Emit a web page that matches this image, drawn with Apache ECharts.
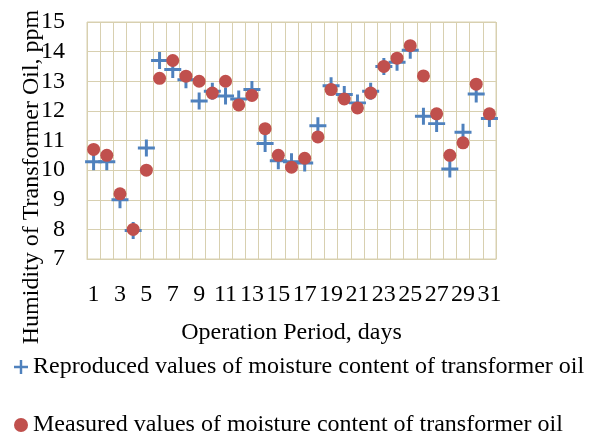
<!DOCTYPE html>
<html>
<head>
<meta charset="utf-8">
<script src="https://cdn.jsdelivr.net/npm/echarts@6/dist/echarts.min.js"></script>
<style>
  html, body { margin: 0; padding: 0; background: #fff; }
  #chart { width: 603px; height: 437px; }
</style>
</head>
<body>
<div id="chart"></div>
<script>
// days of operation
const days = ['1', '2', '3', '4', '5', '6', '7', '8', '9', '10', '11', '12', '13', '14', '15', '16',
  '17', '18', '19', '20', '21', '22', '23', '24', '25', '26', '27', '28', '29', '30', '31']

// reproduced (model) moisture, ppm
const reproduced = [10.28, 10.28, 9.0, 7.96, 10.75, 13.7, 13.4, 13.05, 12.33, 12.66, 12.5, 12.4, 12.72,
  10.9, 10.32, 10.28, 10.24, 11.5, 12.85, 12.55, 12.27, 12.66, 13.5, 13.64, 14.05, 11.82, 11.57,
  10.04, 11.28, 12.57, 11.74]

// measured moisture, ppm
const measured = [10.7, 10.5, 9.2, 8.0, 10.0, 13.1, 13.7, 13.17, 13.0, 12.6, 13.0, 12.2, 12.52,
  11.4, 10.5, 10.1, 10.4, 11.12, 12.72, 12.4, 12.1, 12.6, 13.5, 13.78, 14.2, 13.18, 11.9,
  10.5, 10.92, 12.9, 11.9]

const FONT = '"Liberation Serif", "Times New Roman", serif'
const FS = 24
const GRID_COLOR = '#d8d0b0'
const PLUS = 'path://M8.25,0h3.5v8.25h8.25v3.5h-8.25v8.25h-3.5v-8.25h-8.25v-3.5h8.25z'

const chart = echarts.init(document.getElementById('chart'))

chart.setOption({
  animation: false,
  textStyle: { fontFamily: FONT },
  grid: {
    left: 87,
    right: 107,
    top: 22,
    bottom: 178,
    show: true,
    borderColor: GRID_COLOR,
    borderWidth: 1
  },
  // y axis title sits lower than the plot centre in the original
  graphic: [{
    type: 'text',
    x: 32,
    y: 177,
    rotation: Math.PI / 2,
    style: {
      text: 'Humidity of Transformer Oil, ppm',
      fontFamily: FONT,
      fontSize: FS,
      fill: '#000',
      align: 'center',
      verticalAlign: 'middle'
    }
  }],
  legend: {
    orient: 'vertical',
    left: 14,
    top: 355,
    padding: 0,
    itemGap: 34,
    itemWidth: 14,
    itemHeight: 14,
    textStyle: { fontFamily: FONT, fontSize: FS, lineHeight: 24, color: '#000' },
    data: [
      { name: 'Reproduced values of moisture content of transformer oil', icon: PLUS },
      { name: 'Measured values of moisture content of transformer oil', icon: 'circle' }
    ]
  },
  xAxis: {
    type: 'category',
    data: days,
    name: 'Operation Period, days',
    nameLocation: 'middle',
    nameGap: 62,
    nameTextStyle: { fontFamily: FONT, fontSize: FS, color: '#000' },
    axisLine: { lineStyle: { color: GRID_COLOR } },
    axisTick: { show: false },
    axisLabel: { interval: 1, margin: 24, fontFamily: FONT, fontSize: FS, color: '#000' },
    splitLine: { show: true, interval: 0, lineStyle: { color: GRID_COLOR } }
  },
  yAxis: {
    type: 'value',
    min: 7,
    max: 15,
    interval: 1,
    axisLine: { show: false },
    axisTick: { show: false },
    axisLabel: { margin: 22, fontFamily: FONT, fontSize: FS, color: '#000' },
    splitLine: { lineStyle: { color: GRID_COLOR } }
  },
  series: [
    {
      name: 'Reproduced values of moisture content of transformer oil',
      type: 'scatter',
      symbol: PLUS,
      symbolSize: 17,
      itemStyle: { color: '#4f81bd', opacity: 1 },
      data: reproduced
    },
    {
      name: 'Measured values of moisture content of transformer oil',
      type: 'scatter',
      symbol: 'circle',
      symbolSize: 13,
      itemStyle: { color: '#c0504d', opacity: 1 },
      data: measured
    }
  ]
})
</script>
</body>
</html>
